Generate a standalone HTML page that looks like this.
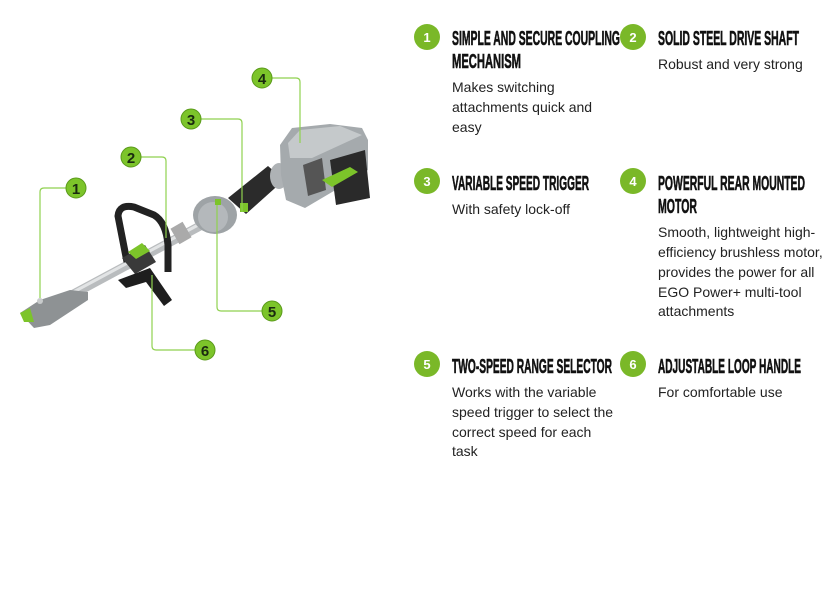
<!DOCTYPE html>
<html><head><meta charset="utf-8"><style>
html,body{margin:0;padding:0;background:#fff;width:837px;height:615px;overflow:hidden}
svg{display:block}
.h{font-family:"Liberation Sans",sans-serif;font-weight:bold;font-size:20px;fill:#111;stroke:#111;stroke-width:0.6}
.b{font-family:"Liberation Sans",sans-serif;font-size:14px;fill:#222}
.n{font-family:"Liberation Sans",sans-serif;font-weight:bold;font-size:13px;fill:#fff}
.cn{font-family:"Liberation Sans",sans-serif;font-weight:bold;font-size:15px;fill:#1a2a10}
</style></head><body>
<svg width="837" height="615" viewBox="0 0 837 615">
<g>
 <!-- shaft -->
 <line x1="40" y1="312" x2="200" y2="226" stroke="#b9bcbe" stroke-width="9"/>
 <line x1="40" y1="310" x2="200" y2="224" stroke="#e2e4e5" stroke-width="3"/>
 <!-- front coupling -->
 <polygon points="20,313 40,300 70,290 88,292 88,300 50,325 34,328" fill="#8e9294"/>
 <polygon points="20,313 30,308 34,322 24,322" fill="#7cc42a"/>
 <circle cx="40" cy="301" r="3" fill="#c8cbcc"/>
 <!-- coupling clamp -->
 <rect x="174" y="224" width="14" height="18" fill="#aaa" transform="rotate(-30 181 233)"/>
 <!-- gear head -->
 <ellipse cx="215" cy="215" rx="22" ry="19" fill="#9ea3a6"/>
 <ellipse cx="213" cy="217" rx="15" ry="15" fill="#b4b8bb"/>
 <!-- grip -->
 <polygon points="228,198 268,166 284,180 246,214" fill="#2b2b2b"/>
 <rect x="240" y="203" width="8" height="9" fill="#7cc42a"/>
 <rect x="215" y="199" width="6" height="6" fill="#7cc42a"/>
 <ellipse cx="279" cy="176" rx="9" ry="13" fill="#aeb2b5"/>
 <!-- motor housing -->
 <polygon points="280,145 292,128 330,124 362,128 368,140 368,170 344,185 305,208 286,200 281,175" fill="#a5aaad"/>
 <polygon points="288,143 300,130 340,126 362,135 312,158 290,158" fill="#c5c9cb"/>
 <polygon points="303,165 322,158 326,190 308,196" fill="#555"/>
 <polygon points="330,160 365,150 370,198 336,205" fill="#2a2a2a"/>
 <polygon points="322,180 350,167 358,172 332,187" fill="#7cc42a"/>
 <!-- loop handle -->
 <path d="M127,262 L118,216 Q119,204 134,207 L154,215 Q166,222 168,245 L168,272" fill="none" stroke="#222" stroke-width="7" stroke-linejoin="round"/>
 <polygon points="122,258 145,245 156,262 135,274" fill="#3a3a3a"/>
 <polygon points="128,252 142,243 150,251 136,259" fill="#7cc42a"/>
 <polygon points="118,280 150,268 172,300 164,306 146,282 126,288" fill="#1e1e1e"/>
</g>
<g stroke="#8fd14f" stroke-width="1.2" fill="none">
 <path d="M66,188 H44 Q40,188 40,192 V298"/>
 <path d="M141,157 H162 Q166,157 166,161 V238"/>
 <path d="M201,119 H238 Q242,119 242,123 V212"/>
 <path d="M272,78 H296 Q300,78 300,82 V143"/>
 <path d="M262,311 H221 Q217,311 217,307 V205"/>
 <path d="M195,350 H156 Q152,350 152,346 V275"/>
</g>
<g fill="#7cc42a" stroke="#5a9a1a" stroke-width="1">
 <circle cx="76" cy="188" r="10"/><circle cx="131" cy="157" r="10"/>
 <circle cx="191" cy="119" r="10"/><circle cx="262" cy="78" r="10"/>
 <circle cx="272" cy="311" r="10"/><circle cx="205" cy="350" r="10"/>
</g>
<g class="cn" text-anchor="middle">
 <text x="76" y="194">1</text><text x="131" y="163">2</text><text x="191" y="125">3</text>
 <text x="262" y="84">4</text><text x="272" y="317">5</text><text x="205" y="356">6</text>
</g>
<g fill="#7ab828">
 <circle cx="427" cy="37" r="13"/><circle cx="633" cy="37" r="13"/>
 <circle cx="427" cy="181" r="13"/><circle cx="633" cy="181" r="13"/>
 <circle cx="427" cy="364" r="13"/><circle cx="633" cy="364" r="13"/>
</g>
<g class="n" text-anchor="middle">
 <text x="427" y="42">1</text><text x="633" y="42">2</text>
 <text x="427" y="186">3</text><text x="633" y="186">4</text>
 <text x="427" y="369">5</text><text x="633" y="369">6</text>
</g>
<g class="h">
 <text x="452" y="45" textLength="168" lengthAdjust="spacingAndGlyphs">SIMPLE AND SECURE COUPLING</text>
 <text x="452" y="68" textLength="69" lengthAdjust="spacingAndGlyphs">MECHANISM</text>
 <text x="658" y="45" textLength="141" lengthAdjust="spacingAndGlyphs">SOLID STEEL DRIVE SHAFT</text>
 <text x="452" y="190" textLength="137" lengthAdjust="spacingAndGlyphs">VARIABLE SPEED TRIGGER</text>
 <text x="658" y="190" textLength="147" lengthAdjust="spacingAndGlyphs">POWERFUL REAR MOUNTED</text>
 <text x="658" y="213" textLength="39" lengthAdjust="spacingAndGlyphs">MOTOR</text>
 <text x="452" y="373" textLength="160" lengthAdjust="spacingAndGlyphs">TWO-SPEED RANGE SELECTOR</text>
 <text x="658" y="373" textLength="143" lengthAdjust="spacingAndGlyphs">ADJUSTABLE LOOP HANDLE</text>
</g>
<g class="b">
 <text x="452" y="92">Makes switching</text>
 <text x="452" y="112">attachments quick and</text>
 <text x="452" y="132">easy</text>
 <text x="658" y="69">Robust and very strong</text>
 <text x="452" y="214">With safety lock-off</text>
 <text x="658" y="237">Smooth, lightweight high-</text>
 <text x="658" y="257">efficiency brushless motor,</text>
 <text x="658" y="277">provides the power for all</text>
 <text x="658" y="297">EGO Power+ multi-tool</text>
 <text x="658" y="316">attachments</text>
 <text x="452" y="397">Works with the variable</text>
 <text x="452" y="417">speed trigger to select the</text>
 <text x="452" y="437">correct speed for each</text>
 <text x="452" y="456">task</text>
 <text x="658" y="397">For comfortable use</text>
</g>
</svg>
</body></html>
